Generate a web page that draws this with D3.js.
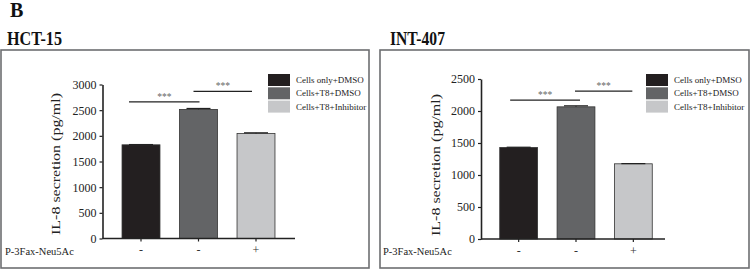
<!DOCTYPE html>
<html>
<head>
<meta charset="utf-8">
<script src="https://cdn.jsdelivr.net/npm/d3@7"></script>
<style>
  html, body { margin: 0; padding: 0; background: #fff; }
  svg { display: block; font-family: "Liberation Serif", "Times New Roman", serif; }
</style>
</head>
<body>
<svg id="chart" width="751" height="270"></svg>
<script>
// ---- data ----
const panelLetter = "B";
const categories = ["Cells only+DMSO", "Cells+T8+DMSO", "Cells+T8+Inhibitor"];
const inhibitorSigns = ["-", "-", "+"];
const xRowLabel = "P-3Fax-Neu5Ac";
const yLabel = "IL-8 secretion (pg/ml)";
const barColors = ["#231f20", "#636466", "#c6c7c9"];

const hctTitle = "HCT-15";
const hctValues = [1825, 2515, 2045];
const hctErrors = [5, 18, 14];
const hctTicks = [0, 500, 1000, 1500, 2000, 2500, 3000];
const hctSig = [[0, 1, 2660], [1, 2, 2865]];

const intTitle = "INT-407";
const intValues = [1430, 2065, 1175];
const intErrors = [4, 16, 3];
const intTicks = [0, 500, 1000, 1500, 2000, 2500];
const intSig = [[0, 1, 2170], [1, 2, 2310]];
const sigLabel = "***";

const svg = d3.select("#chart");
const serif = "Liberation Serif";

svg.append("text").attr("x", 10).attr("y", 17)
  .attr("font-size", 20).attr("font-weight", "bold").attr("fill", "#111")
  .text(panelLetter);

function drawPanel(o) {
  const g = svg.append("g");
  // title
  g.append("text").attr("x", o.titleX).attr("y", 45)
    .attr("font-size", 18).attr("font-weight", "bold").attr("fill", "#111")
    .attr("textLength", 55).attr("lengthAdjust", "spacingAndGlyphs")
    .text(o.title);
  // frame
  g.append("rect").attr("x", o.frame[0]).attr("y", 50)
    .attr("width", o.frame[1] - o.frame[0]).attr("height", 218)
    .attr("fill", "none").attr("stroke", "#6d6e71").attr("stroke-width", 1.6);

  const y = d3.scaleLinear().domain([0, o.ticks[o.ticks.length - 1]]).range(o.yRange);
  const x = d3.scaleBand().domain(categories).range(o.xRange)
    .paddingInner(0.34).paddingOuter(0.17);

  // bars
  g.selectAll("rect.bar").data(o.values).enter().append("rect")
    .attr("class", "bar")
    .attr("x", (d, i) => x(categories[i]))
    .attr("y", d => y(d))
    .attr("width", x.bandwidth())
    .attr("height", d => y(0) - y(d))
    .attr("fill", (d, i) => barColors[i])
    .attr("stroke", "#333").attr("stroke-width", 0.8);

  // error bars (upper)
  o.values.forEach((v, i) => {
    const cx = x(categories[i]) + x.bandwidth() / 2;
    g.append("line").attr("x1", cx).attr("x2", cx)
      .attr("y1", y(v)).attr("y2", y(v + o.errors[i]))
      .attr("stroke", "#222").attr("stroke-width", 1);
    g.append("line").attr("x1", cx - 12).attr("x2", cx + 12)
      .attr("y1", y(v + o.errors[i])).attr("y2", y(v + o.errors[i]))
      .attr("stroke", "#222").attr("stroke-width", 1.2);
  });

  // y axis
  const yAxis = g.append("g").attr("transform", `translate(${o.axisX},0)`)
    .attr("font-family", serif)
    .call(d3.axisLeft(y).tickValues(o.ticks).tickFormat(d3.format("d"))
      .tickSize(3).tickPadding(3).tickSizeOuter(0));
  yAxis.attr("font-family", serif);
  yAxis.selectAll("text").attr("font-size", 12).attr("font-family", serif).attr("fill", "#222");
  yAxis.selectAll("line").attr("stroke", "#222").attr("stroke-width", 1.2);
  yAxis.select(".domain").attr("stroke", "#222").attr("stroke-width", 1.6);

  // x axis
  const xAxis = g.append("g").attr("transform", `translate(0,${y(0)})`)
    .call(d3.axisBottom(x).tickSize(3).tickFormat((d, i) => inhibitorSigns[i]));
  xAxis.attr("font-family", serif);
  xAxis.select(".domain").remove();
  xAxis.selectAll("line").attr("stroke", "#222").attr("stroke-width", 1.2);
  xAxis.selectAll("text").attr("font-size", 12).attr("font-family", serif)
    .attr("fill", "#333").attr("dy", null).attr("y", 15.5);
  g.append("line").attr("x1", o.axisX).attr("x2", o.xAxisEnd)
    .attr("y1", y(0)).attr("y2", y(0)).attr("stroke", "#222").attr("stroke-width", 1.6);

  // row label
  g.append("text").attr("x", o.rowLabelX).attr("y", 255)
    .attr("font-size", 10.5).attr("fill", "#222").text(xRowLabel);

  // y label
  g.append("text")
    .attr("transform", `translate(${o.yLabelX},${o.yLabelY}) rotate(-90)`)
    .attr("text-anchor", "middle").attr("font-size", 13).attr("fill", "#222")
    .attr("textLength", 142).attr("lengthAdjust", "spacingAndGlyphs")
    .text(yLabel);

  // significance
  o.sig.forEach((s, k) => {
    const c0 = x(categories[s[0]]) + x.bandwidth() / 2;
    const c1 = x(categories[s[1]]) + x.bandwidth() / 2;
    const x1 = c0 + o.sigOffsets[k][0], x2 = c1 + o.sigOffsets[k][1];
    const yy = y(s[2]);
    g.append("line").attr("x1", x1).attr("x2", x2).attr("y1", yy).attr("y2", yy)
      .attr("stroke", "#222").attr("stroke-width", 1.2);
    g.append("text").attr("x", (x1 + x2) / 2).attr("y", yy - 2)
      .attr("text-anchor", "middle").attr("font-size", 9.5).attr("fill", "#666")
      .text(sigLabel);
  });

  // legend
  categories.forEach((c, i) => {
    const ly = 74 + i * 13.3;
    g.append("rect").attr("x", o.legendX).attr("y", ly)
      .attr("width", 22).attr("height", 12).attr("fill", barColors[i]);
    g.append("text").attr("x", o.legendX + 28).attr("y", ly + 9)
      .attr("font-size", 9).attr("fill", "#222").text(c);
  });
}

drawPanel({
  title: hctTitle, titleX: 7, frame: [1, 369],
  values: hctValues, errors: hctErrors, ticks: hctTicks, sig: hctSig,
  yRange: [238.5, 84.5], xRange: [112.25, 284.75], axisX: 102.5, xAxisEnd: 295,
  rowLabelX: 5, yLabelX: 60, yLabelY: 164,
  sigOffsets: [[-12, 1], [-5, -4]], legendX: 268
});

drawPanel({
  title: intTitle, titleX: 390, frame: [380, 749],
  values: intValues, errors: intErrors, ticks: intTicks, sig: intSig,
  yRange: [239, 79], xRange: [490, 662], axisX: 481, xAxisEnd: 665,
  rowLabelX: 383, yLabelX: 440, yLabelY: 165,
  sigOffsets: [[-8.5, 4], [-1, -1]], legendX: 646
});
</script>
</body>
</html>
